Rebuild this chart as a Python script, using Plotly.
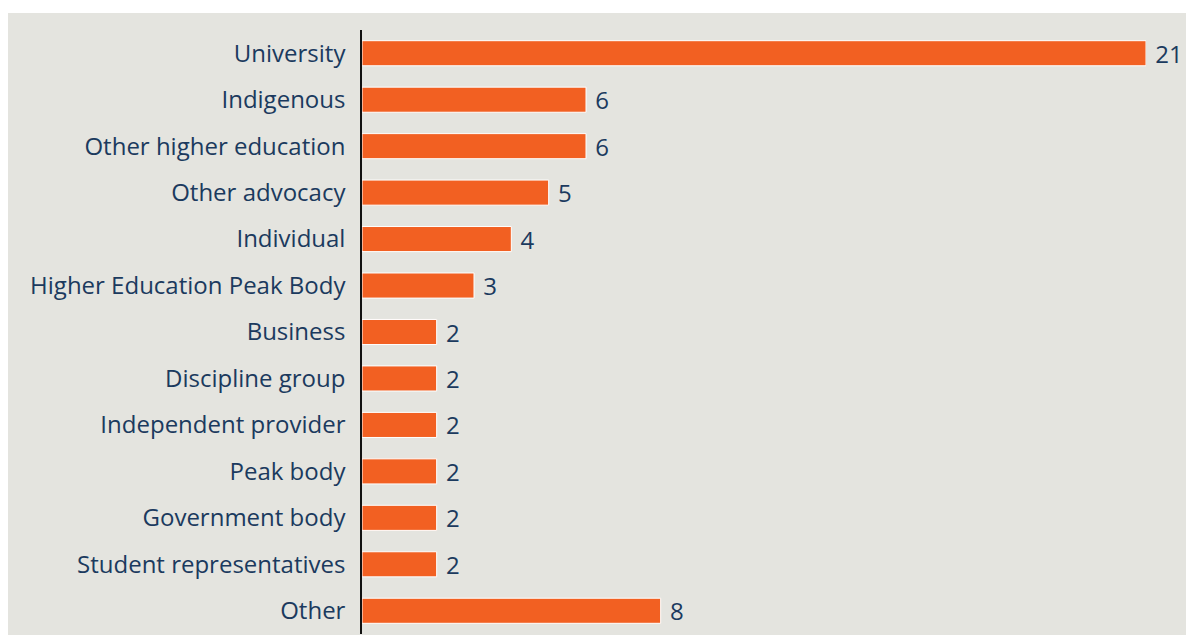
import plotly.graph_objects as go

# Submission counts by respondent type
categories = [
    "University",
    "Indigenous",
    "Other higher education",
    "Other advocacy",
    "Individual",
    "Higher Education Peak Body",
    "Business",
    "Discipline group",
    "Independent provider",
    "Peak body",
    "Government body",
    "Student representatives",
    "Other",
]
counts = [21, 6, 6, 5, 4, 3, 2, 2, 2, 2, 2, 2, 8]

BAR = "#f26022"
INK = "#1b3a5e"
PANEL = "#e4e4df"
FONT = "Open Sans"
FS = 24

W, H = 1186, 635
ML, MR, MT, MB = 362, 40, 30, 1
pw, ph = W - ML - MR, H - MT - MB

fig = go.Figure(
    go.Bar(
        x=counts,
        y=categories,
        orientation="h",
        width=0.54,
        marker=dict(color=BAR, line=dict(color="white", width=1)),
        text=["\u00a0" + str(v) for v in counts],
        textposition="outside",
        constraintext="none",
        textfont=dict(family=FONT, size=FS, color=INK),
        cliponaxis=False,
    )
)

# light panel behind the whole chart (pixel edges converted to paper units)
fig.add_shape(
    type="rect",
    xref="paper", yref="paper",
    x0=(8 - ML) / pw, x1=(W - ML) / pw,
    y0=(H - MB - H) / ph, y1=(H - MB - 13) / ph,
    fillcolor=PANEL, line=dict(width=0), layer="below",
)

fig.update_layout(
    width=W, height=H,
    margin=dict(l=ML, r=MR, t=MT, b=MB),
    paper_bgcolor="white",
    plot_bgcolor="rgba(0,0,0,0)",
    showlegend=False,
    font=dict(family=FONT, color=INK),
)
fig.update_xaxes(range=[0, 21], visible=False)
fig.update_yaxes(
    autorange="reversed",
    showline=True, linecolor="#111111", linewidth=1.5,
    showgrid=False, zeroline=False,
    ticks="", ticklabelstandoff=10,
    tickfont=dict(family=FONT, size=FS, color=INK),
)

fig.write_html("out.html")
